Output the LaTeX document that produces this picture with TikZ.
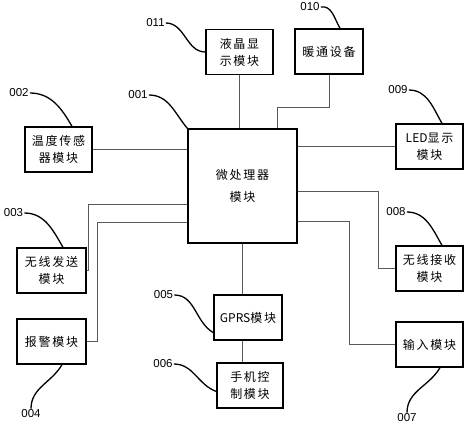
\documentclass[tikz,border=0pt]{standalone}
\usepackage{fontspec}
\newfontfamily\cjk[LetterSpace=14]{Noto Sans CJK SC}
\newfontfamily\cjklat{Noto Sans CJK SC}
\newfontfamily\numfont{Liberation Sans}
\usetikzlibrary{calc}
\begin{document}
\begin{tikzpicture}[x=1pt,y=-1pt,
  box/.style={draw=black,line width=1.3pt,minimum width=67pt,minimum height=45pt,inner sep=1pt,align=center,
    font=\cjk\fontsize{12}{17}\selectfont},
  lbl/.style={font=\numfont\fontsize{11.5}{13}\selectfont,inner sep=1pt},
  conn/.style={draw=black!65,line width=0.8pt},
  lead/.style={draw=black,line width=1.3pt}]
\useasboundingbox (0,0) rectangle (467,427);
% boxes
\node[box] (b011) at (239.5,52) {液晶显\\示模块};
\node[box,minimum width=68pt] (b010) at (329,51.5) {暖通设备};
\node[box,minimum width=109pt,minimum height=114pt,font=\cjk\fontsize{12}{22}\selectfont] (b001) at (242.5,186) {微处理器\\模块};
\node[box] (b002) at (58.5,149.5) {温度传感\\器模块};
\node[box,minimum width=69pt] (b003) at (51.5,270.5) {无线发送\\模块};
\node[box,minimum width=69pt] (b004) at (51.5,341.5) {报警模块};
\node[box,minimum width=68pt] (b005) at (248,317.5) {{\cjklat GPRS}模块};
\node[box,minimum width=66pt] (b006) at (250,385.5) {手机控\\制模块};
\node[box] (b009) at (429.5,146.5) {{\cjklat LED}显示\\模块};
\node[box] (b008) at (429.5,268.5) {无线接收\\模块};
\node[box] (b007) at (429.5,344.5) {输入模块};
% labels
\node[lbl] (l011) at (155.5,23) {011};
\node[lbl] (l001) at (138,95) {001};
\node[lbl] (l002) at (19,93) {002};
\node[lbl] (l010) at (310,7) {010};
\node[lbl] (l009) at (398,90) {009};
\node[lbl] (l003) at (13.5,213) {003};
\node[lbl] (l004) at (31,414) {004};
\node[lbl] (l005) at (163.5,295) {005};
\node[lbl] (l006) at (163,364) {006};
\node[lbl] (l008) at (396,212) {008};
\node[lbl] (l007) at (407,418) {007};
% connector bend points
\coordinate (k10) at (277,107);
\coordinate (k3) at (88,204);
\coordinate (k4) at (97,222);
\coordinate (k8) at (378,191);
\coordinate (k7) at (349,221);
% connectors
\draw[conn] (b011.south) -- (b011.south |- b001.north);
\draw[conn] (b010.south) |- (k10) -- (k10 |- b001.north);
\draw[conn] (b002.east) -- (b002.east -| b001.west);
\draw[conn] (k3 -| b001.west) -- (k3) |- (b003.east);
\draw[conn] (k4 -| b001.west) -- (k4) |- (b004.east);
\draw[conn] (b001.south) -- (b001.south |- b005.north);
\draw[conn] (b005.south -| b001.south) -- (b001.south |- b006.north);
\draw[conn] (b009.west) -- (b009.west -| b001.east);
\draw[conn] (k8 -| b001.east) -- (k8) |- (b008.west);
\draw[conn] (k7 -| b001.east) -- (k7) |- (b007.west);
% leader curves
\draw[lead] (l011.east) to[out=0,in=180] (b011.west);
\draw[lead] (l001.east) to[out=0,in=130] (b001.north west);
\draw[lead] (l002.east) to[out=0,in=120] ($(b002.north)+(13.5,0)$);
\draw[lead] (l010.east) to[out=10,in=120] ($(b010.north)+(11,0)$);
\draw[lead] (l009.east) to[out=0,in=120] ($(b009.north)+(12.5,0)$);
\draw[lead] (l003.east) to[out=0,in=120] ($(b003.north)+(11.5,0)$);
\draw[lead] (l008.east) to[out=0,in=120] ($(b008.north)+(12.5,0)$);
\draw[lead] (l005.east) to[out=0,in=150] ($(b005.south west)+(0,-8)$);
\draw[lead] (l006.east) to[out=0,in=160] ($(b006.west)+(0,6)$);
\draw[lead] (l004.north) to[out=90,in=240] ($(b004.south)+(10.5,0)$);
\draw[lead] (l007.north) to[out=90,in=240] ($(b007.south)+(10.5,0)$);
\end{tikzpicture}
\end{document}
